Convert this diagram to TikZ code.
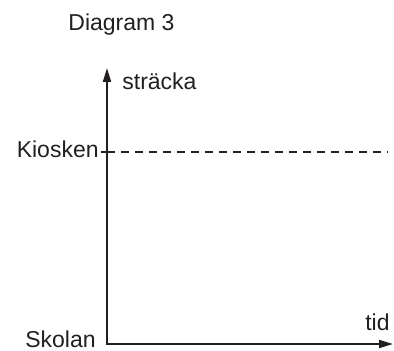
\documentclass[tikz,border=0pt]{standalone}
\usepackage{fontspec}
\setmainfont{Liberation Sans}
\definecolor{inkdark}{RGB}{35, 31, 32}
\usetikzlibrary{arrows.meta, positioning}

\begin{document}
\begin{tikzpicture}[x=0.5pt, y=-0.5pt,
  every node/.style={text=inkdark, font=\fontsize{11.5}{13}\selectfont, inner sep=0pt},
  axis/.style={draw=inkdark, line width=1pt, {Triangle[length=7pt, width=4pt]}-{Triangle[length=7pt, width=4pt]}},
  level/.style={draw=inkdark, line width=0.8pt}]
  \useasboundingbox (0,0) rectangle (394,351);
  \coordinate (O) at (107,344);
  \coordinate (ytop) at (107,68);
  \coordinate (xend) at (393,344);
  \coordinate (kiosk) at (107,152);
  \coordinate (tick) at (101,152);
  \coordinate (kioskend) at (388,152);
  \draw[axis] (ytop) -- (O) -- (xend);
  \draw[level] (tick) -- (kiosk);
  \draw[level, dash pattern=on 4pt off 3pt] (kiosk) -- (kioskend);
  \node[anchor=base west] (title) at (68,31) {Diagram 3};
  \node[anchor=base west] (stracka) at (122,90) {sträcka};
  \node[anchor=base east] (kiosken) at (99,158) {Kiosken};
  \node[anchor=base east] (skolan) at (96,347) {Skolan};
  \node[anchor=base east] (tid) at (390,330) {tid};
\end{tikzpicture}
\end{document}
